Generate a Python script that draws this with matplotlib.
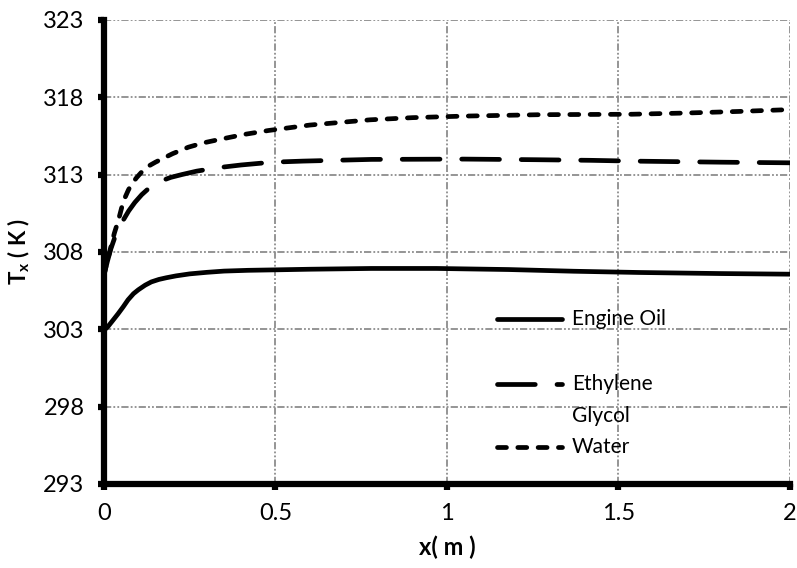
import matplotlib
matplotlib.use('Agg')
import matplotlib.pyplot as plt

plt.rcParams['font.family'] = ['Lato', 'DejaVu Sans']
plt.rcParams['mathtext.fontset'] = 'custom'
plt.rcParams['mathtext.rm'] = 'Lato'
plt.rcParams['mathtext.bf'] = 'Lato:bold'

# outlet temperature along the pipe for the three coolants
x_oil = [0, 0.006, 0.0125, 0.025, 0.041, 0.056, 0.07, 0.086, 0.1, 0.12, 0.138, 0.16, 0.182,
         0.21, 0.25, 0.3, 0.35, 0.42, 0.5, 0.6, 0.78, 0.97, 1.18, 1.37, 1.56, 1.8, 2.0]
t_oil = [303.0, 303.05, 303.2, 303.55, 304.0, 304.45, 304.9, 305.3, 305.55, 305.85, 306.06, 306.22, 306.33,
         306.45, 306.58, 306.68, 306.76, 306.81, 306.84, 306.88, 306.93, 306.93, 306.86, 306.75, 306.67, 306.6, 306.56]

x_glycol = [0, 0.01, 0.02, 0.032, 0.044, 0.056, 0.072, 0.09, 0.11, 0.13, 0.15, 0.168, 0.195, 0.227,
            0.27, 0.334, 0.4, 0.49, 0.58, 0.78, 1.05, 1.26, 1.42, 1.54, 1.8, 2.0]
t_glycol = [306.5, 307.4, 308.2, 308.97, 309.55, 310.05, 310.65, 311.2, 311.7, 312.1, 312.4, 312.6, 312.82, 313.0,
            313.22, 313.45, 313.62, 313.8, 313.87, 313.98, 314.0, 313.96, 313.92, 313.87, 313.8, 313.76]

x_water = [0, 0.005, 0.0175, 0.03, 0.042, 0.052, 0.061, 0.071, 0.081, 0.095, 0.11, 0.13, 0.15, 0.168, 0.2,
           0.246, 0.29, 0.343, 0.41, 0.48, 0.6, 0.776, 0.9, 1.05, 1.27, 1.54, 1.7, 1.85, 2.0]
t_water = [306.5, 307.0, 308.1, 309.2, 310.05, 310.9, 311.5, 312.0, 312.4, 312.8, 313.17, 313.55, 313.8, 314.0, 314.35,
           314.77, 315.05, 315.3, 315.6, 315.85, 316.2, 316.54, 316.68, 316.78, 316.87, 316.9, 316.98, 317.08, 317.2]

labels = ['Engine Oil', 'Ethylene\nGlycol', 'Water']
x_ticks = [0, 0.5, 1, 1.5, 2]
x_tick_labels = ['0', '0.5', '1', '1.5', '2']
y_ticks = [293, 298, 303, 308, 313, 318, 323]

styles = [
    dict(linestyle='-'),
    dict(linestyle=(0, (8.0, 4.6))),
    dict(linestyle=(0, (1.9, 2.4))),
]
LW = 3.4

fig = plt.figure(figsize=(7.97, 5.68), dpi=100)
ax = fig.add_axes([0.1305, 0.148, 0.8605, 0.817])

series = [(x_oil, t_oil), (x_glycol, t_glycol), (x_water, t_water)]
for (xs, ts), st in zip(series, styles):
    ax.plot(xs, ts, color='black', lw=LW, dash_capstyle='round',
            solid_capstyle='round', solid_joinstyle='round', zorder=3, **st)

ax.set_xlim(0, 2)
ax.set_ylim(293, 323)
ax.set_xticks(x_ticks)
ax.set_xticklabels(x_tick_labels)
ax.set_yticks(y_ticks)

ax.grid(True, color='#8c8c8c', lw=1.3, linestyle=(0, (4, 1.2, 1, 1.2, 1, 1.2)))
ax.set_axisbelow(True)

for side in ['top', 'right']:
    ax.spines[side].set_visible(False)
for side in ['left', 'bottom']:
    ax.spines[side].set_linewidth(4.5)
    ax.spines[side].set_zorder(4)

ax.tick_params(axis='both', direction='out', length=4, width=4.5,
               labelsize=17, pad=10, color='black')

ax.set_xlabel('x( m )', fontsize=17, fontweight='bold', labelpad=8)
ax.set_ylabel(r'T$_\mathbf{x}$ ( K )', fontsize=16, fontweight='bold', labelpad=8)

# legend drawn by hand so the handle sits on the first line of each label
leg_y = [0.356, 0.216, 0.080]
line_step = 0.069
for (lab, st, yy) in zip(labels, styles, leg_y):
    ax.plot([0.573, 0.668], [yy, yy], transform=ax.transAxes, color='black',
            lw=LW, dash_capstyle='round', solid_capstyle='round',
            clip_on=False, **st)
    for i, part in enumerate(lab.split('\n')):
        ax.text(0.682, yy - i * line_step, part, transform=ax.transAxes,
                fontsize=15, va='center', ha='left')

fig.savefig('out.png', dpi=100)
